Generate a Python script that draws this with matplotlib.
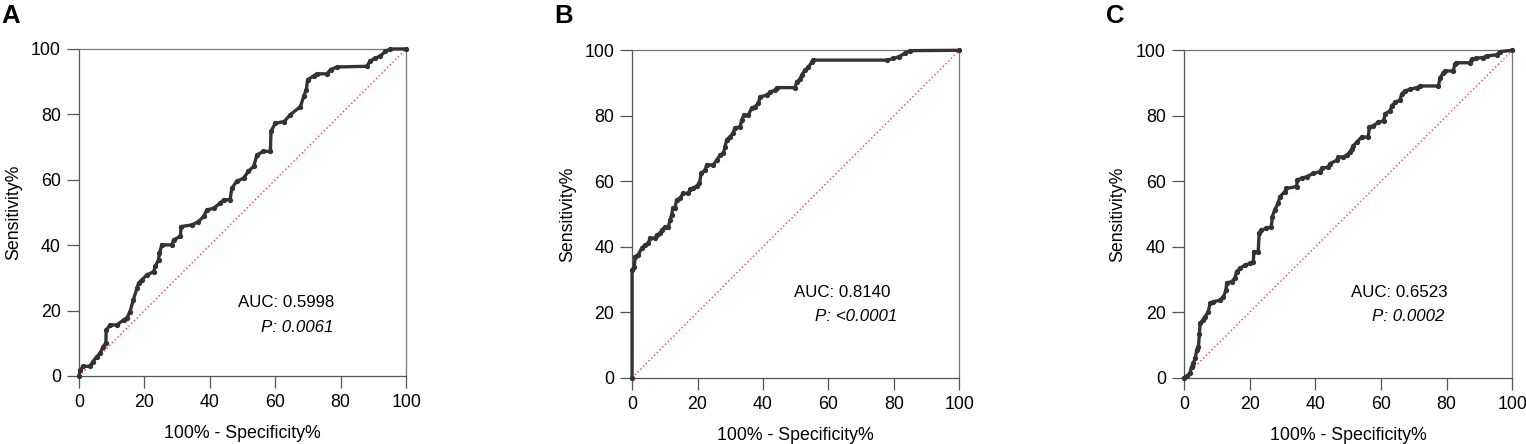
import matplotlib.pyplot as plt

plt.rcParams['font.family'] = ['Liberation Sans', 'DejaVu Sans']

# ROC 曲线 A
fpr_a = [0, 0.3, 1.3, 3.4, 4.2, 5.4, 6.4, 7.4, 8.2, 8.3, 9.5, 11.5, 13.6, 14.6, 15.6, 16.6,
         17.7, 18.2, 19.2, 20.7, 22.8, 23.3, 24.3, 24.6, 25.3, 28.4, 28.9, 31.0, 31.2, 34.5,
         36.5, 38.1, 39.1, 41.2, 43.2, 44.2, 46.2, 46.7, 48.2, 50.3, 51.8, 53.4, 54.4, 56.4,
         58.5, 58.7, 60.0, 62.7, 64.6, 67.7, 68.7, 69.5, 69.9, 71.8, 72.8, 75.8, 76.9, 78.9,
         88.0, 89.0, 90.6, 92.1, 93.7, 95.2, 100]
tpr_a = [0, 1.8, 2.9, 3.0, 4.4, 5.9, 6.9, 9.0, 10.0, 14.0, 15.6, 15.6, 17.1, 17.7, 19.7, 23.3,
         26.8, 28.4, 29.4, 30.9, 31.9, 33.5, 35.5, 37.6, 40.1, 40.1, 41.6, 42.7, 45.7, 46.2,
         47.2, 48.8, 50.8, 51.3, 52.9, 53.9, 53.9, 57.4, 59.5, 60.5, 62.6, 64.1, 67.6, 68.7,
         68.7, 74.8, 77.3, 77.8, 79.9, 82.4, 85.5, 87.6, 90.6, 91.8, 92.4, 92.4, 93.7, 94.5,
         94.7, 96.3, 97.2, 97.8, 99.3, 100, 100]

# ROC 曲线 B
fpr_b = [0, 0, 0.7, 0.9, 1.9, 2.9, 3.9, 4.9, 5.5, 7.0, 7.5, 8.6, 9.1, 10.1, 11.1, 11.6, 12.1,
         12.4, 13.1, 13.6, 14.7, 15.5, 17.2, 17.7, 18.7, 19.8, 20.6, 21.1, 22.3, 22.8, 24.8,
         25.9, 26.9, 27.9, 28.4, 28.9, 29.9, 30.8, 31.4, 33.0, 33.5, 34.2, 35.5, 36.5, 37.6,
         38.6, 39.1, 41.1, 42.2, 43.7, 44.2, 49.8, 50.3, 51.3, 51.8, 52.8, 53.9, 54.9, 55.4,
         77.8, 79.8, 81.4, 83.4, 84.9, 100]
tpr_b = [0, 32.9, 33.9, 37.0, 37.5, 39.5, 40.5, 41.0, 42.6, 42.6, 43.6, 44.1, 45.1, 46.1, 46.1,
         48.2, 49.7, 51.7, 51.7, 54.3, 54.8, 56.3, 56.3, 57.5, 57.8, 58.6, 59.4, 62.4, 63.4,
         65.0, 65.0, 66.5, 68.0, 68.5, 70.6, 72.6, 73.6, 74.6, 76.2, 76.7, 78.7, 80.2, 80.2,
         82.3, 82.8, 83.8, 85.8, 86.3, 87.3, 87.8, 88.6, 88.6, 90.4, 91.1, 92.4, 93.9, 94.9,
         96.4, 97.0, 97.0, 97.5, 98.0, 99.1, 99.9, 100]

# ROC 曲线 C
fpr_c = [0, 0.8, 1.8, 2.3, 2.8, 3.4, 3.9, 4.4, 4.7, 4.9, 5.7, 6.4, 7.4, 7.9, 8.9, 11.0, 12.0,
         12.8, 13.0, 14.5, 15.5, 16.0, 17.0, 18.6, 20.1, 21.1, 21.3, 22.6, 22.9, 23.6, 25.1,
         26.6, 26.9, 27.6, 28.7, 29.2, 30.7, 31.2, 34.3, 34.5, 35.8, 37.4, 39.4, 41.4, 41.9,
         44.0, 44.5, 46.5, 47.0, 48.5, 49.5, 50.5, 51.1, 51.6, 52.6, 54.1, 56.1, 56.5, 57.7,
         59.2, 60.8, 61.3, 62.8, 63.3, 64.3, 65.8, 66.3, 67.3, 68.9, 70.9, 71.9, 77.5, 78.0,
         79.0, 79.5, 82.0, 82.5, 83.0, 87.1, 87.6, 89.1, 91.2, 92.2, 95.2, 96.2, 100]
tpr_c = [0, 0.5, 1.3, 3.4, 4.4, 5.9, 8.5, 9.5, 13.5, 16.6, 17.6, 18.6, 20.2, 22.7, 23.2, 23.7,
         24.7, 26.8, 29.0, 29.3, 30.4, 32.4, 33.4, 34.4, 34.9, 35.4, 38.5, 38.5, 44.1, 45.1,
         45.6, 46.1, 49.2, 51.2, 53.3, 55.3, 56.8, 57.8, 58.4, 60.4, 60.9, 61.4, 62.4, 62.9,
         63.9, 64.4, 65.4, 66.4, 67.4, 67.4, 67.9, 68.9, 69.9, 70.9, 71.9, 73.5, 73.5, 76.5,
         77.0, 78.0, 78.5, 80.6, 81.6, 83.1, 84.1, 84.8, 86.6, 87.6, 88.1, 88.6, 89.1, 89.1,
         91.6, 93.1, 93.7, 93.7, 95.7, 96.2, 96.2, 97.2, 97.6, 97.8, 98.3, 98.6, 99.6, 100]

panel_labels = ['A', 'B', 'C']
auc_texts = ['AUC: 0.5998', 'AUC: 0.8140', 'AUC: 0.6523']
p_texts = ['0.0061', '<0.0001', '0.0002']
ticks = [0, 20, 40, 60, 80, 100]

fig = plt.figure(figsize=(15.26, 4.44), dpi=100)
rects = [[0.0518, 0.1532, 0.2143, 0.7365],
         [0.4142, 0.1493, 0.2145, 0.7374],
         [0.7759, 0.1493, 0.2151, 0.7374]]
text_pos = [(78, 22.6, 77.7, 14.7), (79, 25.9, 80.9, 18.8), (80.4, 25.9, 79.2, 18.8)]
letter_x = [0.001, 0.3635, 0.7245]
ylab_x = [-0.175, -0.172, -0.177]

curves = [(fpr_a, tpr_a), (fpr_b, tpr_b), (fpr_c, tpr_c)]

for i, (fx, ty) in enumerate(curves):
    ax = fig.add_axes(rects[i])
    ax.plot([0, 100], [0, 100], color='#ff3b3b', lw=1.0, ls=(0, (1, 1.8)), zorder=2)
    ax.plot(fx, ty, color='#333333', lw=2.4, marker='o', ms=2.8,
            solid_joinstyle='miter', zorder=3, clip_on=False)
    ax.set_xlim(0, 100)
    ax.set_ylim(0, 100)
    ax.set_xticks(ticks)
    ax.set_yticks(ticks)
    ax.tick_params(length=8.5, width=0.9, color='#555555', labelsize=12.8, pad=4.5)
    for s in ['left', 'bottom']:
        ax.spines[s].set_color('#555555')
        ax.spines[s].set_linewidth(0.9)
    for s in ['top', 'right']:
        ax.spines[s].set_color('#777777')
        ax.spines[s].set_linewidth(0.9)
    ax.set_xlabel('100% - Specificity%', fontsize=12.8, labelpad=10)
    ax.set_ylabel('Sensitivity%', fontsize=12.8)
    ax.yaxis.set_label_coords(ylab_x[i], 0.5)
    tx, ty1, px, py = text_pos[i]
    ax.text(tx, ty1, auc_texts[i], ha='right', va='center', fontsize=12.2)
    ax.text(px, py, 'P: ' + p_texts[i], ha='right', va='center', fontsize=12.2, style='italic')
    fig.text(letter_x[i], 0.963, panel_labels[i], fontsize=18.5, fontweight='bold', va='center')

fig.savefig('out.png', dpi=100)
